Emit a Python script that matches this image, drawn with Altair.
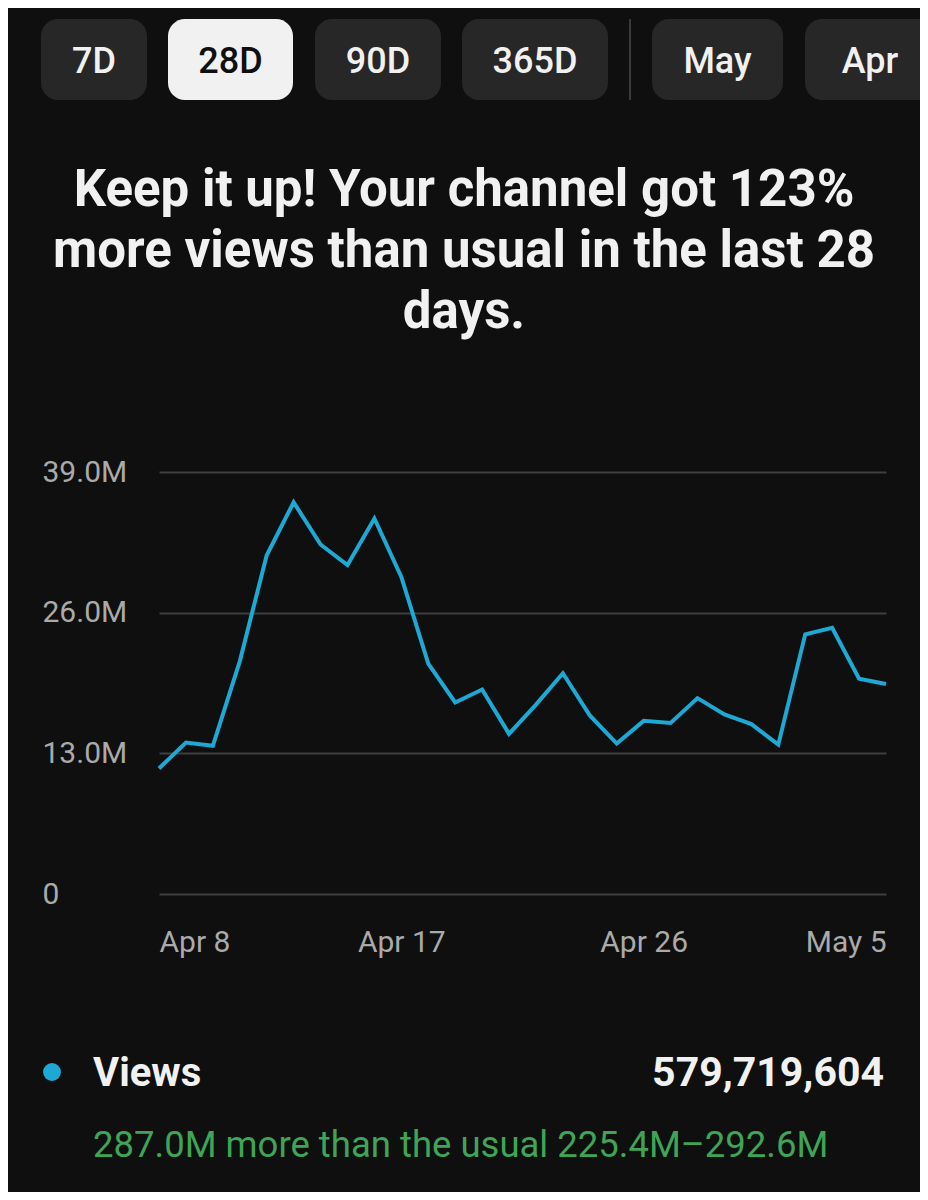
import altair as alt
import pandas as pd

# ---- data ----
start_date = "2024-04-08"
views_m = [11.6, 14.0, 13.7, 21.5, 31.3, 36.2, 32.3, 30.4, 34.7, 29.3,
           21.3, 17.7, 18.9, 14.8, 17.5, 20.4, 16.5, 13.9, 16.0, 15.8,
           18.1, 16.6, 15.7, 13.8, 24.0, 24.6, 19.9, 19.4]
dates = pd.date_range(start_date, periods=len(views_m), freq="D").strftime("%Y-%m-%d").tolist()
y_ticks_m = [0, 13, 26, 39]
x_tick_days = [(4, 8), (4, 17), (4, 26), (5, 5)]
buttons = ["7D", "28D", "90D", "365D", "May", "Apr"]
selected_button = "28D"
headline = ["Keep it up! Your channel got 123%",
            "more views than usual in the last 28",
            "days."]
metric_name = "Views"
metric_total = "579,719,604"
metric_note = "287.0M more than the usual 225.4M\u2013292.6M"

# ---- styles ----
BG = "#0f0f0f"
LINE = "#1ea8d4"
WHITE = "#f1f1f1"
GREEN = "#3fa556"
FONT = "Roboto"

df = pd.DataFrame({"date": dates, "views": views_m})

line = alt.Chart(df).mark_line(color=LINE, strokeWidth=4, strokeJoin="miter").encode(
    x=alt.X("date:T", title=None,
            scale=alt.Scale(type="utc", nice=False),
            axis=alt.Axis(values=[alt.DateTime(year=2024, month=m, date=d, utc=True) for m, d in x_tick_days],
                          labelExpr="utcFormat(datum.value, '%b %-d')",
                          grid=False, domain=False, ticks=False, tickSize=0,
                          labelPadding=33, labelFontSize=30, labelColor="#aaaaaa",
                          labelFont=FONT, labelFlush=True)),
    y=alt.Y("views:Q", title=None,
            scale=alt.Scale(domain=[0, 39], nice=False, zero=True),
            axis=alt.Axis(values=y_ticks_m,
                          labelExpr="datum.value == 0 ? '0' : format(datum.value, '.1f') + 'M'",
                          grid=True, gridColor="#3f3f3f", gridWidth=2,
                          domain=False, ticks=False, tickSize=0,
                          labelAlign="left", labelPadding=117,
                          labelFontSize=30, labelColor="#aaaaaa", labelFont=FONT)),
)

one = pd.DataFrame({"k": [0]})
layers = [line]

# buttons (plot-relative pixel layout)
button_x = [(-118, -12), (9, 134), (156, 282), (303, 449), (493, 624), (646, 776)]
for label, (x0, x1) in zip(buttons, button_x):
    sel = label == selected_button
    layers.append(alt.Chart(one).mark_rect(cornerRadius=17, color=WHITE if sel else "#272727").encode(
        x=alt.value(x0), x2=alt.value(x1), y=alt.value(-453), y2=alt.value(-372)))
    layers.append(alt.Chart(one).mark_text(text=label, font=FONT, fontSize=36, fontWeight=500,
                                           color=BG if sel else WHITE, align="center",
                                           baseline="middle").encode(
        x=alt.value((x0 + x1) / 2), y=alt.value(-410)))
# divider
layers.append(alt.Chart(one).mark_rule(color="#3a3a3a", strokeWidth=2).encode(
    x=alt.value(471), y=alt.value(-453), y2=alt.value(-372)))

# headline
layers.append(alt.Chart(one).mark_text(text=headline, font=FONT, fontSize=51, fontWeight="bold",
                                       color=WHITE, align="center", baseline="alphabetic",
                                       lineHeight=61).encode(
    x=alt.value(305), y=alt.value(-266)))

# legend row
layers.append(alt.Chart(one).mark_point(filled=True, color=LINE, size=320, opacity=1, shape="circle").encode(
    x=alt.value(-107), y=alt.value(600)))
layers.append(alt.Chart(one).mark_text(text=metric_name, font=FONT, fontSize=40, fontWeight="bold",
                                       color=WHITE, align="left", baseline="alphabetic").encode(
    x=alt.value(-66), y=alt.value(614)))
layers.append(alt.Chart(one).mark_text(text=metric_total, font=FONT, fontSize=41, fontWeight="bold",
                                       color=WHITE, align="right", baseline="alphabetic").encode(
    x=alt.value(725), y=alt.value(614)))
layers.append(alt.Chart(one).mark_text(text=metric_note, font=FONT, fontSize=36.5,
                                       color=GREEN, align="left", baseline="alphabetic").encode(
    x=alt.value(-66), y=alt.value(685)))

chart = alt.layer(*layers).properties(
    width=727, height=422,
    autosize=alt.AutoSizeParams(type="none"),
    padding={"left": 151, "top": 464, "right": 34, "bottom": 298},
    background=BG,
).configure_view(stroke=None)

chart.save("out.html", embed_options={"renderer": "svg", "actions": False})
